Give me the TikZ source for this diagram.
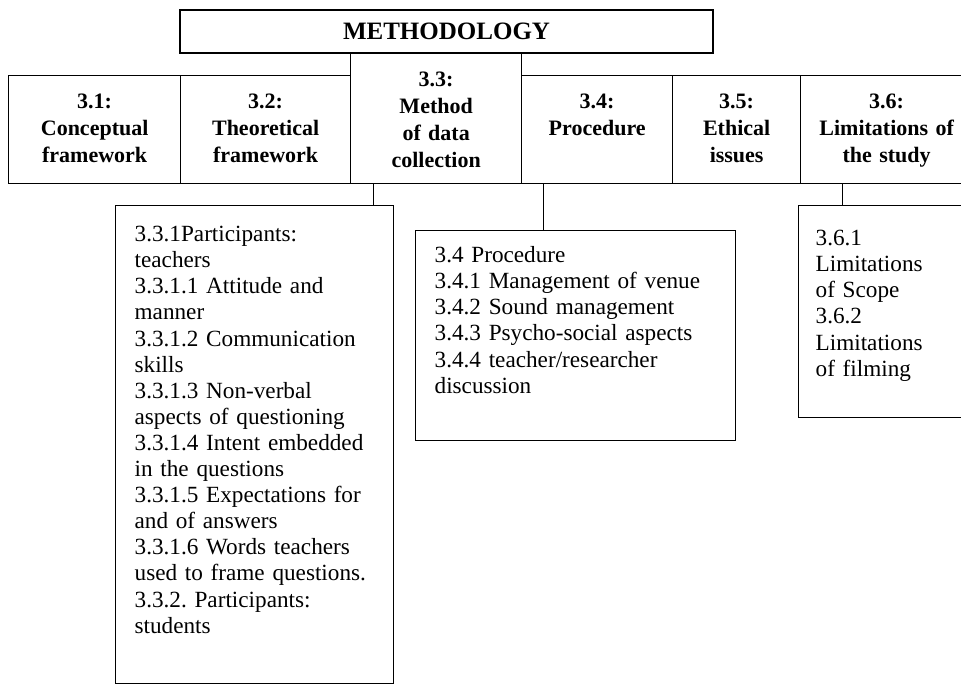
\documentclass[tikz,border=0pt]{standalone}
\usepackage{fontspec}
\setmainfont{Liberation Serif}
\frenchspacing

\begin{document}
\begin{tikzpicture}[x=1pt, y=-1pt, line width=1.3pt,
  every node/.style={inner sep=0pt},
  secbox/.style={draw, anchor=north west, inner xsep=3pt, align=center,
    font=\fontsize{22}{27}\selectfont\bfseries, text height=33pt},
  subbox/.style={draw, anchor=north west, inner xsep=19pt, align=left,
    font=\fontsize{23.2}{26.1}\selectfont}]
  \useasboundingbox (0,0) rectangle (961,686);
  % Title
  \node[draw, minimum width=533pt, minimum height=43pt,
    font=\fontsize{25}{30}\selectfont\bfseries] (meth) at (446.5,31.5) {METHODOLOGY};
  % Sections
  \node[secbox, text width=166pt, text depth=75pt] (c31) at (8,75)   {3.1:\\Conceptual\\framework};
  \node[secbox, text width=164pt, text depth=75pt] (c32) at (180,75) {3.2:\\Theoretical\\framework};
  \node[secbox, text width=165pt, text depth=97pt] (c33) at (350,53) {3.3:\\Method\\of data\\collection};
  \node[secbox, text width=145pt, text depth=75pt] (c34) at (521,75) {3.4:\\Procedure};
  \node[secbox, text width=122pt, text depth=75pt] (c35) at (672,75) {3.5:\\Ethical\\issues};
  \node[secbox, text width=166pt, text depth=75pt] (c36) at (800,75) {3.6:\\Limitations of\\the study};
  % Sub-boxes
  \node[subbox, text width=240pt, text height=36pt, text depth=442pt] (part) at (115,205)
    {3.3.1Participants:\\teachers\\3.3.1.1 Attitude and\\manner\\3.3.1.2 Communication\\skills\\
     3.3.1.3 Non-verbal\\aspects of questioning\\3.3.1.4 Intent embedded\\in the questions\\
     3.3.1.5 Expectations for\\and of answers\\3.3.1.6 Words teachers\\used to frame questions.\\
     3.3.2. Participants:\\students};
  \node[subbox, text width=282pt, text height=32pt, text depth=178pt] (proc) at (415,230)
    {3.4 Procedure\\3.4.1 Management of venue\\3.4.2 Sound management\\
     3.4.3 Psycho-social aspects\\3.4.4 teacher/researcher\\discussion};
  \node[subbox, inner xsep=17pt, text width=143pt, text height=40pt, text depth=172pt] (lim) at (798,205)
    {3.6.1\\Limitations\\of Scope\\3.6.2\\Limitations\\of filming};
  % Links
  \draw ([xshift=-62.5pt]c33.south) -- ([xshift=-62.5pt]c33.south |- part.north);
  \draw ([xshift=-53.5pt]c34.south) -- ([xshift=-53.5pt]c34.south |- proc.north);
  \draw ([xshift=-44pt]c36.south) -- ([xshift=-44pt]c36.south |- lim.north);
\end{tikzpicture}
\end{document}
